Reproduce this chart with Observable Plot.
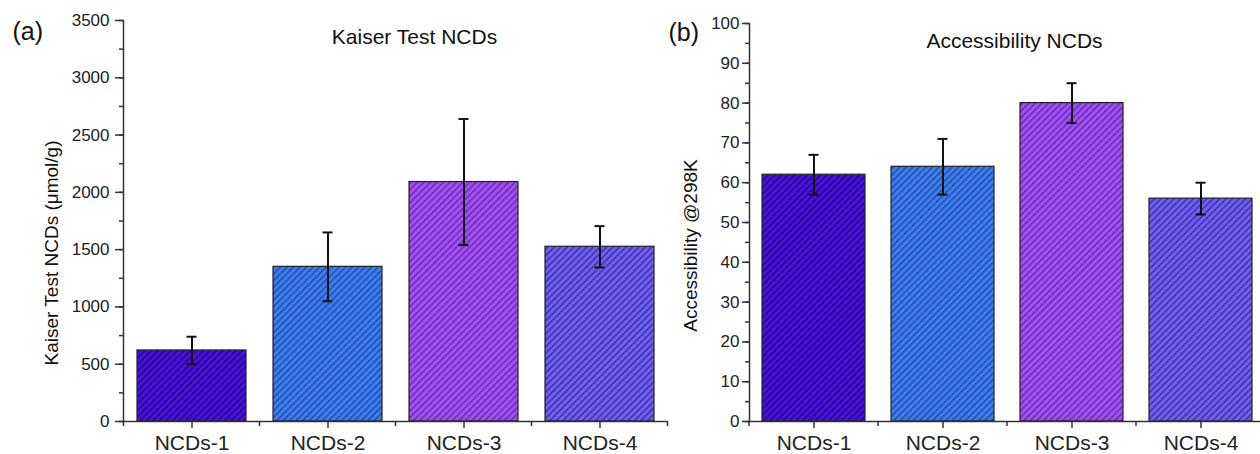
<!DOCTYPE html>
<html>
<head>
<meta charset="utf-8">
<script src="https://cdn.jsdelivr.net/npm/d3@7"></script>
<script src="https://cdn.jsdelivr.net/npm/@observablehq/plot@0.6"></script>
<style>
  html, body { margin: 0; padding: 0; background: #fff; width: 1260px; height: 454px; overflow: hidden; }
  #wrap { position: relative; width: 1260px; height: 454px; }
  .panel { position: absolute; top: 0; }
  .panel svg { background: transparent !important; overflow: visible; }
</style>
</head>
<body>
<div id="wrap">
  <div id="left" class="panel" style="left:0px"></div>
  <div id="right" class="panel" style="left:630px"></div>
</div>
<script>
// ---- data ----
const categories = ["NCDs-1", "NCDs-2", "NCDs-3", "NCDs-4"];
const kaiserValues = [620, 1350, 2090, 1525];
const kaiserErrors = [120, 300, 550, 180];
const accessValues = [62, 64, 80, 56];
const accessErrors = [5, 7, 5, 4];
const kaiserTicks = [0, 500, 1000, 1500, 2000, 2500, 3000, 3500];
const accessTicks = [0, 10, 20, 30, 40, 50, 60, 70, 80, 90, 100];
const barFills = ["#4712dc", "#3c7cf2", "#a24ef2", "#6e5ef2"];
const hatchLines = ["#28068c", "#2250a4", "#6a2cb2", "#4232a6"];

const font = "'Liberation Sans', Arial, sans-serif";

function rowsOf(values, errors) {
  return categories.map((c, i) => ({cat: c, v: values[i], lo: values[i] - errors[i], hi: values[i] + errors[i], i}));
}

function edgeTicks(len) {
  return (index, scales, values, dims) => {
    const x = scales.x;
    const bw = x.bandwidth ? x.bandwidth() : 0;
    const step = x.step ? x.step() : (x(categories[1]) - x(categories[0]));
    const gap = (step - bw) / 2;
    const edges = categories.map(c => x(c) - gap);
    edges.push(x(categories[categories.length - 1]) + bw + gap);
    const y0 = dims.height - dims.marginBottom;
    const g = d3.create("svg:g");
    g.selectAll("line").data(edges).join("line")
      .attr("x1", d => d).attr("x2", d => d)
      .attr("y1", y0).attr("y2", y0 + len)
      .attr("stroke", "#333").attr("stroke-width", 1.5);
    return g.node();
  };
}

function addPatterns(svg, prefix) {
  const defs = d3.select(svg).insert("defs", ":first-child");
  barFills.forEach((f, i) => {
    const p = defs.append("pattern")
      .attr("id", prefix + i)
      .attr("patternUnits", "userSpaceOnUse")
      .attr("width", 4.6).attr("height", 4.6)
      .attr("patternTransform", "rotate(45)");
    p.append("rect").attr("width", 4.6).attr("height", 4.6).attr("fill", f);
    p.append("line").attr("x1", 0.8).attr("y1", 0).attr("x2", 0.8).attr("y2", 4.6)
      .attr("stroke", hatchLines[i]).attr("stroke-width", 1.5);
  });
}

function makePanel(opts) {
  const rows = rowsOf(opts.values, opts.errors);
  const minor = d3.range(0, opts.max + 1e-9, opts.minorStep);
  const bars = rows.map(r => Plot.barY([r], {
    x: "cat", y: "v", fill: `url(#${opts.prefix}${r.i})`, stroke: "#222", strokeWidth: 1.2
  }));
  const plot = Plot.plot({
    width: opts.width,
    height: 454,
    marginLeft: opts.marginLeft,
    marginRight: opts.marginRight,
    marginTop: opts.marginTop,
    marginBottom: 33,
    style: {fontFamily: font, fontSize: "17px", color: "#222", background: "transparent", overflow: "visible"},
    x: {type: "band", domain: categories, paddingInner: 0.2, paddingOuter: 0.1, label: null},
    y: {domain: [0, opts.max], label: null},
    marks: [
      ...bars,
      Plot.ruleX(rows, {x: "cat", y1: "lo", y2: "hi", stroke: "#111", strokeWidth: 2}),
      Plot.tickY(rows, {x: "cat", y: "hi", stroke: "#111", strokeWidth: 2, insetLeft: opts.capInset, insetRight: opts.capInset}),
      Plot.tickY(rows, {x: "cat", y: "lo", stroke: "#111", strokeWidth: 2, insetLeft: opts.capInset, insetRight: opts.capInset}),
      Plot.axisY({ticks: minor, tickSize: 4, tickFormat: () => "", stroke: "#333", strokeWidth: 1.5}),
      Plot.axisY({ticks: opts.ticks, tickSize: opts.tickSize, tickPadding: opts.tickPadding, stroke: "#333", strokeWidth: 1.5, fontSize: 17, tickFormat: d => String(d), label: null}),
      Plot.axisX({tickSize: 7, tickPadding: 7, stroke: "#333", strokeWidth: 1.5, fontSize: 21, label: null}),
      edgeTicks(5),
      Plot.frame({anchor: "left", stroke: "#333", strokeWidth: 1.5}),
      Plot.ruleY([0], {stroke: "#333", strokeWidth: 1.5}),
      Plot.text([opts.title], {frameAnchor: "top", textAnchor: "middle", lineAnchor: "middle", dx: opts.titleDx, dy: opts.titleDy, fontSize: 21, fill: "#111"}),
      Plot.text([opts.tag], {frameAnchor: "top-left", textAnchor: "start", lineAnchor: "middle", dx: opts.tagDx, dy: opts.tagDy, fontSize: 25, fill: "#111"}),
      Plot.text([opts.ylabel], {frameAnchor: "left", textAnchor: "middle", lineAnchor: "middle", rotate: -90, dx: opts.ylabDx, dy: opts.ylabDy, fontSize: 19, fill: "#111"})
    ]
  });
  addPatterns(plot, opts.prefix);
  return plot;
}

document.getElementById("left").append(makePanel({
  values: kaiserValues, errors: kaiserErrors, ticks: kaiserTicks, max: 3500, minorStep: 250,
  width: 672, marginLeft: 123, marginRight: 4, marginTop: 20, capInset: 49.5,
  tickSize: 8, tickPadding: 6, prefix: "hatchA",
  title: "Kaiser Test NCDs", titleDx: 18.5, titleDy: 17,
  tag: "(a)", tagDx: -111, tagDy: 11,
  ylabel: "Kaiser Test NCDs (μmol/g)", ylabDx: -72, ylabDy: 32
}));

document.getElementById("right").append(makePanel({
  values: accessValues, errors: accessErrors, ticks: accessTicks, max: 100, minorStep: 5,
  width: 630, marginLeft: 119, marginRight: -5, marginTop: 23, capInset: 46.5,
  tickSize: 7, tickPadding: 3, prefix: "hatchB",
  title: "Accessibility NCDs", titleDx: 7, titleDy: 18,
  tag: "(b)", tagDx: -81, tagDy: 9,
  ylabel: "Accessibility @298K", ylabDx: -59, ylabDy: 23
}));
</script>
</body>
</html>
